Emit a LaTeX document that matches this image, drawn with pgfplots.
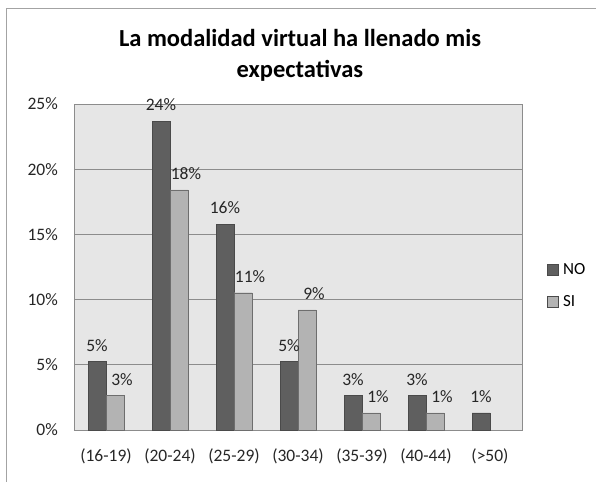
\documentclass[border=0pt]{standalone}
\usepackage{pgfplots}
\pgfplotsset{compat=1.18}
\usetikzlibrary{calc}
\usepackage{fontspec}
\setmainfont{Carlito}
\definecolor{nocol}{HTML}{5F5F5F}
\definecolor{sicol}{HTML}{B3B3B3}
\definecolor{bgcol}{HTML}{E6E6E6}
\definecolor{gridcol}{HTML}{8C8C8C}
\definecolor{edgecol}{HTML}{4A4A4A}
\begin{document}
\begin{tikzpicture}[x=1pt,y=1pt]
\begin{axis}[
  name=ax,
  scale only axis, width=448pt, height=326pt,
  xmin=-0.5, xmax=6.5, ymin=0, ymax=25,
  ybar=0pt, bar width=18pt,
  axis background/.style={fill=bgcol},
  axis line style={gridcol},
  xtick={0,...,6}, xticklabels={(16-19),(20-24),(25-29),(30-34),(35-39),(40-44),(>50)},
  ytick={0,5,...,25},
  yticklabel={\pgfmathprintnumber{\tick}\%},
  /pgf/number format/assume math mode=true,
  major tick length=0pt,
  ymajorgrids, grid style={gridcol,line width=0.8pt},
  tick label style={font=\fontsize{17.5}{20}\selectfont, text=black!85, inner sep=0pt},
  xticklabel style={anchor=north, yshift=-18pt},
  yticklabel style={anchor=east, xshift=-16pt},
  nodes near coords={\pgfmathprintnumber[fixed,precision=0]{\pgfplotspointmeta}\%},
  every node near coord/.append style={font=\fontsize{17.5}{20}\selectfont, text=black!85, inner sep=0pt, yshift=10pt},
  legend style={draw=none, fill=none, at={(1.0545,0.443)}, anchor=west, inner sep=0pt, font=\fontsize{17}{20}\selectfont, row sep=16pt, legend cell align=left},
  legend image code/.code={\draw[#1,draw=edgecol] (0pt,-5.5pt) rectangle (11pt,5.5pt); \path (14pt,0pt);},
]
\coordinate (SW) at (rel axis cs:0,0);
\addplot[fill=nocol, draw=edgecol] coordinates {(0,5.263) (1,23.684) (2,15.789) (3,5.263) (4,2.632) (5,2.632) (6,1.316)};
\addplot[fill=sicol, draw=edgecol!80, every node near coord/.append style={xshift=7pt}] coordinates {(0,2.632) (1,18.421) (2,10.526) (3,9.211) (4,1.316) (5,1.316)};
\legend{NO,SI}
\end{axis}
\pgfresetboundingbox
\useasboundingbox ($(SW)+(-74,-52)$) rectangle ++(596,482);
\draw[gridcol!80,line width=1pt] ($(SW)+(-67,-52)$) -- ($(SW)+(-67,421.5)$) -- ($(SW)+(522,421.5)$);
\node[font=\fontsize{24.5}{31}\selectfont\bfseries,align=center] at ($(SW)+(226,374.5)$) {La modalidad virtual ha llenado mis\\expectativas};
\end{tikzpicture}
\end{document}
